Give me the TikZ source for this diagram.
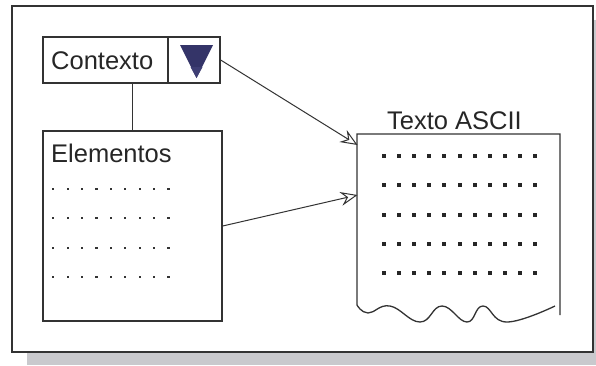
\documentclass[tikz,border=0pt]{standalone}
\usepackage{fontspec}
\setmainfont{Liberation Sans}
\usetikzlibrary{arrows.meta}
\definecolor{ln}{HTML}{333333}
\definecolor{shadowc}{HTML}{C9C9CD}
\definecolor{navy}{HTML}{343468}
\definecolor{navylight}{HTML}{3E3E74}
\begin{document}
\begin{tikzpicture}[x=1pt,y=-1pt,
  box/.style={draw=ln, line width=1.3pt, fill=white, rectangle, inner sep=0pt},
  lbl/.style={anchor=base west, inner sep=0pt, font=\fontsize{25.5}{30}\selectfont, text=black!85},
  conn/.style={draw=ln, line width=1pt},
  arr/.style={conn, -{Stealth[open, length=17pt, width=14pt, inset=6pt]}},
  bigdot/.style={fill=black!85},
  smalldot/.style={fill=black!80}]
\useasboundingbox (0,0) rectangle (596,365);
% shadow and frame
\fill[shadowc] (27,20) rectangle (610,365);
\draw[ln, line width=1.5pt, fill=white] (12,6) rectangle (593,352);
% Contexto box
\node[box, minimum width=125pt, minimum height=46pt] (ctx) at (105.5,60) {};
\node[box, minimum width=52pt, minimum height=46pt] (tri) at (194,60) {};
\fill[navy] (180,45) -- (213,45) -- (196.5,78) -- cycle;
\fill[navylight] (190.5,67) -- (202.5,67) -- (196.5,78) -- cycle;
\node[lbl] (ctxt) at (51,69) {Contexto};
% Elementos box
\node[box, minimum width=179pt, minimum height=190pt] (elem) at (132.5,226) {};
\node[lbl] (elemt) at (51,162) {Elementos};
\draw[conn] (elem.north) -- (elem.north |- ctx.south);
\foreach \j in {0,...,3}{
  \foreach \i in {0,...,8}{
    \fill[smalldot] ({53.3+14.4*\i-1.1},{189+29.3*\j-1.1}) rectangle ++(2.2,2.2);
  }
}
% Texto ASCII document
\draw[ln, line width=1.3pt] (560,315) -- (560,134) -- (357,134) -- (357,305)
  -- plot[smooth, tension=0.75] coordinates {(357,305) (368,313) (390,306) (420,322) (442,306) (467,322) (483,306) (507,322) (555,306)};
\node[lbl] (doct) at (387,129) {Texto ASCII};
\foreach \j in {0,...,4}{
  \foreach \i in {0,...,10}{
    \fill[bigdot] ({384+15.1*\i-2},{156+29.3*\j-2}) rectangle ++(4,4);
  }
}
% arrows
\coordinate (a1) at (357.5,145);
\coordinate (a2) at (357.5,195);
\draw[arr] (tri.east) -- (a1);
\draw[arr] (elem.east) -- (a2);
\end{tikzpicture}
\end{document}
